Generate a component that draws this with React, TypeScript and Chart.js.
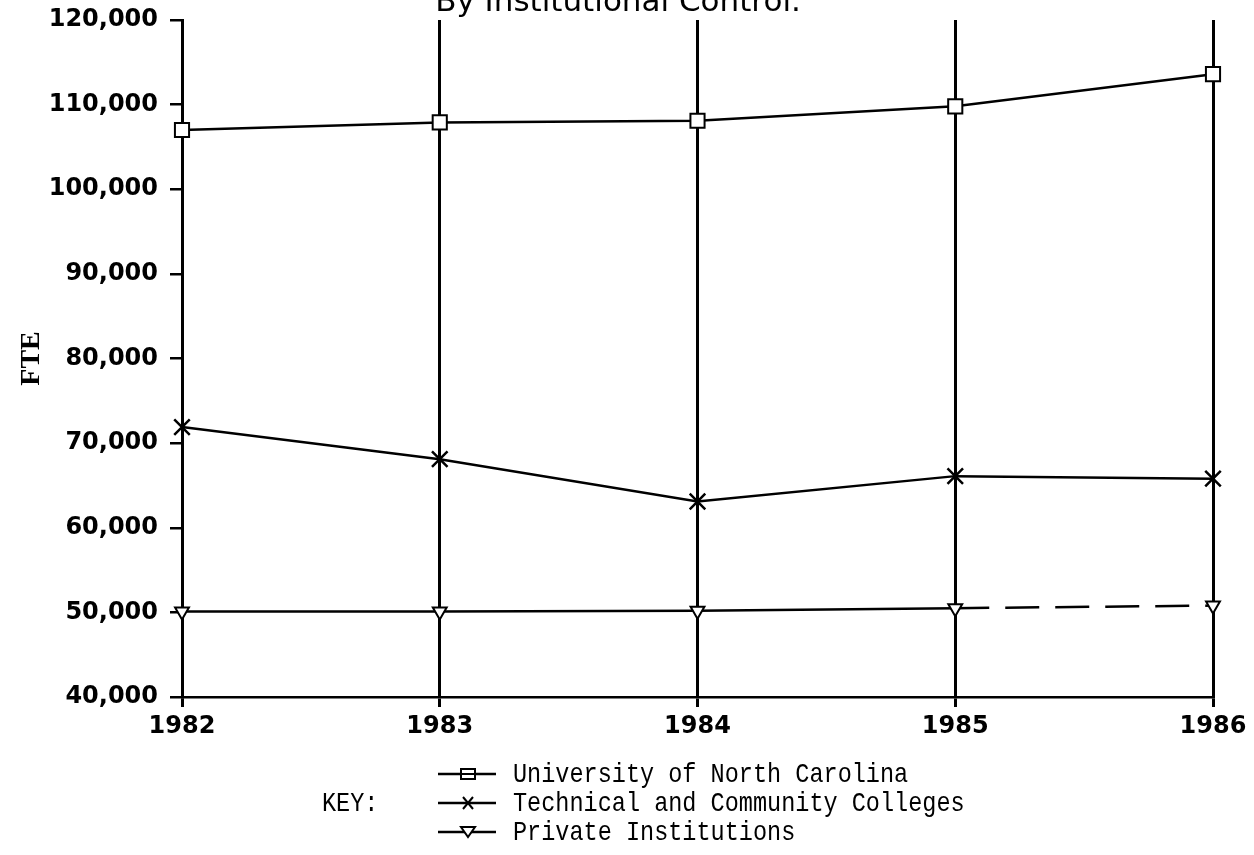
import React, { useEffect, useRef } from "react";
import { Chart, registerables } from "chart.js";

Chart.register(...registerables);

const YEARS = ["1982", "1983", "1984", "1985", "1986"];
const UNC = [107000, 107900, 108100, 109800, 113600];
const TECH = [71900, 68100, 63100, 66100, 65800];
const PRIVATE = [50100, 50100, 50200, 50500, 50800];
const SERIES_NAMES = [
  "University of North Carolina",
  "Technical and Community Colleges",
  "Private Institutions",
];
const TITLE = "By Institutional Control.";
const Y_TITLE = "FTE";
const KEY_LABEL = "KEY:";
const Y_MIN = 40000;
const Y_MAX = 120000;
const Y_STEP = 10000;

const W = 1254;
const H = 855;

function drawMarker(ctx: CanvasRenderingContext2D, kind: number, x: number, y: number) {
  ctx.save();
  ctx.strokeStyle = "#000";
  ctx.lineWidth = 2;
  ctx.fillStyle = "#fff";
  if (kind === 0) {
    ctx.fillRect(x - 7, y - 5, 14, 10);
    ctx.strokeRect(x - 7, y - 5, 14, 10);
    ctx.beginPath();
    ctx.moveTo(x - 7, y);
    ctx.lineTo(x + 7, y);
    ctx.stroke();
  } else if (kind === 1) {
    ctx.beginPath();
    ctx.moveTo(x - 5, y - 6);
    ctx.lineTo(x + 5, y + 6);
    ctx.moveTo(x + 5, y - 6);
    ctx.lineTo(x - 5, y + 6);
    ctx.stroke();
  } else {
    ctx.beginPath();
    ctx.moveTo(x - 7, y - 5);
    ctx.lineTo(x + 7, y - 5);
    ctx.lineTo(x, y + 5);
    ctx.closePath();
    ctx.fill();
    ctx.stroke();
  }
  ctx.restore();
}

function drawMonoText(ctx: CanvasRenderingContext2D, text: string, x: number, y: number) {
  ctx.save();
  ctx.translate(x, y);
  ctx.scale(0.84, 1);
  ctx.fillText(text, 0, 0);
  ctx.restore();
}

const titlePlugin = {
  id: "customTitle",
  afterDraw(chart: any) {
    const ctx: CanvasRenderingContext2D = chart.ctx;
    ctx.save();
    ctx.fillStyle = "#000";
    ctx.font = '31px "DejaVu Sans"';
    ctx.textAlign = "center";
    ctx.textBaseline = "alphabetic";
    ctx.fillText(TITLE, 618, 11);
    ctx.restore();
  },
};

const keyPlugin = {
  id: "keyLegend",
  afterDraw(chart: any) {
    const ctx: CanvasRenderingContext2D = chart.ctx;
    ctx.save();
    ctx.fillStyle = "#000";
    ctx.font = '28px "Liberation Mono"';
    ctx.textBaseline = "middle";
    ctx.textAlign = "left";
    const rowY = [774, 803, 832];
    SERIES_NAMES.forEach((name, i) => {
      const y = rowY[i];
      ctx.strokeStyle = "#000";
      ctx.lineWidth = 2.5;
      ctx.beginPath();
      ctx.moveTo(438, y);
      ctx.lineTo(496, y);
      ctx.stroke();
      drawMarker(ctx, i, 468, y);
      drawMonoText(ctx, name, 513, y + 1);
    });
    drawMonoText(ctx, KEY_LABEL, 322, rowY[1] + 1);
    ctx.restore();
  },
};

export default function App() {
  const ref = useRef<HTMLCanvasElement | null>(null);

  useEffect(() => {
    if (!ref.current) return;
    const chart = new Chart(ref.current, {
      type: "line",
      data: {
        labels: YEARS,
        datasets: [
          {
            label: SERIES_NAMES[0],
            data: UNC,
            borderColor: "#000",
            borderWidth: 2.5,
            pointStyle: "rect",
            pointRadius: 10,
            pointBorderWidth: 2,
            pointBorderColor: "#000",
            pointBackgroundColor: "#fff",
            tension: 0,
          },
          {
            label: SERIES_NAMES[1],
            data: TECH,
            borderColor: "#000",
            borderWidth: 2.5,
            pointStyle: "crossRot",
            pointRadius: 11,
            pointBorderWidth: 2.5,
            pointBorderColor: "#000",
            tension: 0,
          },
          {
            label: SERIES_NAMES[2],
            data: PRIVATE,
            borderColor: "#000",
            borderWidth: 2.5,
            pointStyle: "triangle",
            rotation: 180,
            pointRadius: 8,
            pointBorderWidth: 2,
            pointBorderColor: "#000",
            pointBackgroundColor: "#fff",
            tension: 0,
            segment: {
              borderDash: (c: any) => (c.p0DataIndex === 3 ? [34, 16] : undefined),
            },
          } as any,
        ],
      },
      options: {
        responsive: false,
        animation: false,
        devicePixelRatio: 1,
        layout: { padding: { left: 0, right: W - 1213, top: 20, bottom: 0 } },
        plugins: {
          legend: { display: false },
          title: { display: false },
          tooltip: { enabled: false },
        },
        scales: {
          x: {
            type: "category",
            offset: false,
            afterFit: (s: any) => {
              s.height = H - 697;
            },
            grid: {
              display: true,
              drawOnChartArea: true,
              color: "#000",
              lineWidth: 3,
              tickLength: 10,
            },
            border: { display: true, color: "#000", width: 2.5 },
            ticks: {
              color: "#000",
              font: { family: "DejaVu Sans", size: 24, weight: "bold" },
              padding: 5,
              maxRotation: 0,
            },
          },
          y: {
            type: "linear",
            min: Y_MIN,
            max: Y_MAX,
            afterFit: (s: any) => {
              s.width = 182;
              s.paddingTop = 0;
              s.paddingBottom = 0;
            },
            grid: {
              display: true,
              drawOnChartArea: false,
              color: "#000",
              lineWidth: 2.5,
              tickLength: 12,
            },
            border: { display: true, color: "#000", width: 3 },
            ticks: {
              stepSize: Y_STEP,
              color: "#000",
              font: { family: "DejaVu Sans", size: 24, weight: "bold" },
              padding: 12,
              callback: (v: any) => Number(v).toLocaleString("en-US"),
            },
            title: {
              display: true,
              text: Y_TITLE,
              color: "#000",
              font: { family: "Liberation Serif", size: 28, weight: "bold" },
              padding: { top: 15, bottom: 0 },
            },
          },
        },
      },
      plugins: [titlePlugin, keyPlugin],
    });
    return () => chart.destroy();
  }, []);

  return (
    <div style={{ position: "absolute", left: 0, top: 0, width: W, height: H, background: "#fff" }}>
      <canvas ref={ref} width={W} height={H} style={{ display: "block", width: W, height: H }} />
    </div>
  );
}
